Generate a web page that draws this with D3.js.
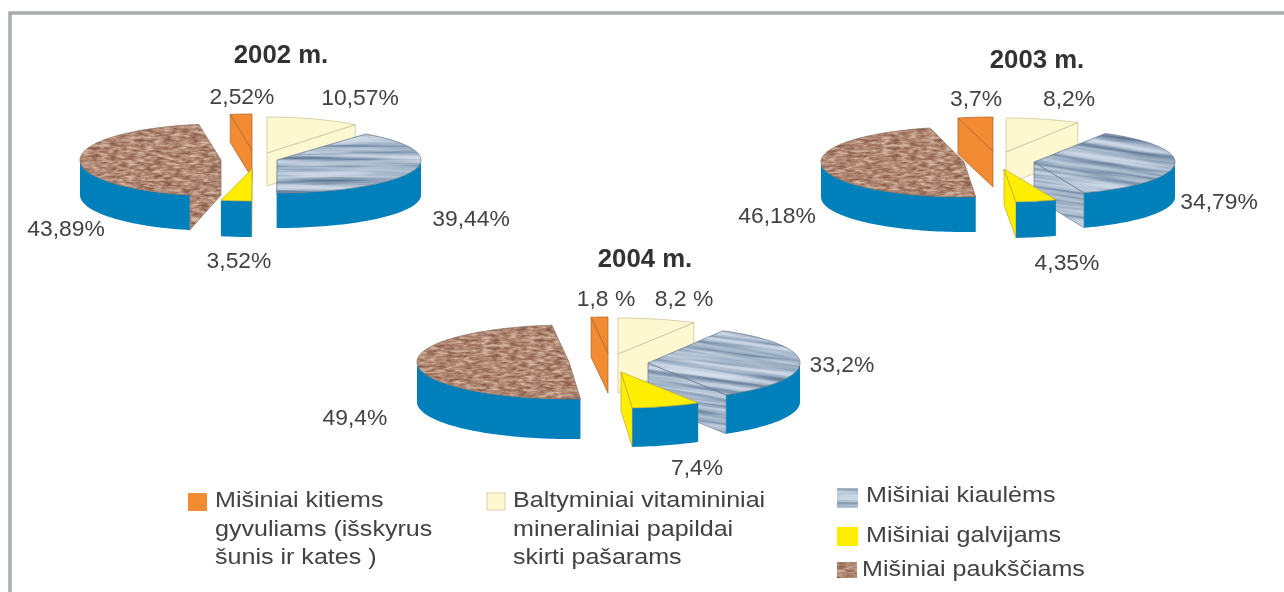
<!DOCTYPE html>
<html>
<head>
<meta charset="utf-8">
<script src="https://cdnjs.cloudflare.com/ajax/libs/d3/7.8.5/d3.min.js"></script>
<style>
  body { margin: 0; background: #fff; }
  svg { display: block; }
  text { font-family: "Liberation Sans", Arial, sans-serif; fill: #424242; }
</style>
</head>
<body>
<svg id="chart" width="1284" height="592"></svg>
<script>
// values, slices go clockwise from 12 o'clock
var categories = ["baltyminiai", "kiaules", "galvijai", "pauksciai", "kiti"];
var years = ["2002 m.", "2003 m.", "2004 m."];
var shares2002 = [10.57, 39.44, 3.52, 43.89, 2.52];
var shares2003 = [8.2, 34.79, 4.35, 46.18, 3.7];
var shares2004 = [8.2, 33.2, 7.4, 49.4, 1.8];
var labels2002 = ["10,57%", "39,44%", "3,52%", "43,89%", "2,52%"];
var labels2003 = ["8,2%", "34,79%", "4,35%", "46,18%", "3,7%"];
var labels2004 = ["8,2 %", "33,2%", "7,4%", "49,4%", "1,8 %"];
var legendLines = [
  ["Mišiniai kitiems", "gyvuliams (išskyrus", "šunis ir kates )"],
  ["Baltyminiai vitamininiai", "mineraliniai papildai", "skirti pašarams"],
  ["Mišiniai kiaulėms"],
  ["Mišiniai galvijams"],
  ["Mišiniai paukščiams"]
];
var legendKeys = ["kiti", "baltyminiai", "kiaules", "galvijai", "pauksciai"];

// layout: each exploded slice has its own apex, radii and depth
var pies = [
  { shares: shares2002, labels: labels2002, title: [281, 63], tilt: 0,
    slices: [
      { x: 267, y: 153, rx: 143, ry: 36, d: 33 },
      { x: 277, y: 160, rx: 144, ry: 33, d: 35 },
      { x: 252, y: 169, rx: 140, ry: 32, d: 36 },
      { x: 221, y: 160, rx: 141, ry: 36, d: 35 },
      { x: 252, y: 150, rx: 138, ry: 36, d: 28 }],
    labelPos: [[360, 105], [471, 226], [239, 268], [66, 236], [242, 104]] },
  { shares: shares2003, labels: labels2003, title: [1037, 68], tilt: 8,
    slices: [
      { x: 1006, y: 152, rx: 142, ry: 34, d: 33 },
      { x: 1034, y: 162, rx: 141, ry: 33, d: 35 },
      { x: 1004, y: 169, rx: 146, ry: 33, d: 36 },
      { x: 964, y: 162, rx: 143, ry: 35, d: 35 },
      { x: 993, y: 151, rx: 148, ry: 34, d: 36 }],
    labelPos: [[1069, 106], [1219, 209], [1067, 270], [777, 223], [976, 106]] },
  { shares: shares2004, labels: labels2004, title: [645, 267], tilt: 8,
    slices: [
      { x: 618, y: 354, rx: 154, ry: 36, d: 39 },
      { x: 648, y: 363, rx: 152, ry: 37, d: 39 },
      { x: 621, y: 372, rx: 150, ry: 36, d: 39 },
      { x: 569, y: 362, rx: 152, ry: 37, d: 40 },
      { x: 608, y: 353, rx: 150, ry: 36, d: 40 }],
    labelPos: [[684, 306], [842, 372], [697, 475], [355, 425], [606, 306]] }
];
var drawOrder = [4, 0, 3, 1, 2]; // back to front

var wallColor = "#0080bb";
var solidFill = { baltyminiai: "#fdf8cf", galvijai: "#ffee00", kiti: "#f28b32" };
var edgeColor = { baltyminiai: "#c4bd92", kiaules: "#66758a", galvijai: "#b8a930", pauksciai: "#8a6a5a", kiti: "#a5652f" };

var svg = d3.select("#chart");
var defs = svg.append("defs");

// noise textures for the two patterned categories
function addNoise(id, freq, seed, r, g, b) {
  var f = defs.append("filter").attr("id", id)
    .attr("x", 0).attr("y", 0).attr("width", 1).attr("height", 1)
    .attr("color-interpolation-filters", "sRGB");
  f.append("feTurbulence").attr("type", "fractalNoise")
    .attr("baseFrequency", freq).attr("numOctaves", 3).attr("seed", seed)
    .attr("stitchTiles", "stitch");
  f.append("feColorMatrix").attr("type", "matrix")
    .attr("values", "1 0 0 0 0  1 0 0 0 0  1 0 0 0 0  0 0 0 0 1");
  var t = f.append("feComponentTransfer");
  t.append("feFuncR").attr("type", "table").attr("tableValues", r);
  t.append("feFuncG").attr("type", "table").attr("tableValues", g);
  t.append("feFuncB").attr("type", "table").attr("tableValues", b);
}
addNoise("streaks", "0.008 0.2", 7,
  "0.38 0.38 0.5 0.66 0.78 0.84 0.84",
  "0.46 0.46 0.58 0.73 0.83 0.88 0.88",
  "0.58 0.58 0.68 0.8 0.89 0.93 0.93");
addNoise("mottle", "0.11 0.38", 3,
  "0.52 0.52 0.6 0.69 0.78 0.85 0.85",
  "0.34 0.34 0.43 0.53 0.65 0.74 0.74",
  "0.27 0.27 0.35 0.45 0.57 0.66 0.66");

function addPattern(id, filter, angle) {
  var p = defs.append("pattern").attr("id", id)
    .attr("patternUnits", "userSpaceOnUse")
    .attr("width", 400).attr("height", 200)
    .attr("patternTransform", "rotate(" + angle + ")");
  p.append("rect").attr("width", 400).attr("height", 200).attr("filter", "url(#" + filter + ")");
}
addPattern("pig0", "streaks", 0);
addPattern("pig8", "streaks", 8);
addPattern("bird", "mottle", 0);

function faceFill(key, tilt) {
  if (key === "kiaules") return "url(#pig" + tilt + ")";
  if (key === "pauksciai") return "url(#bird)";
  return solidFill[key];
}

// point on a slice's rim, angle 0 at the top going clockwise
function rim(s, a, drop) {
  return [s.x + s.rx * Math.sin(a), s.y - s.ry * Math.cos(a) + drop];
}
function arcPoints(s, a0, a1, drop) {
  var n = Math.max(2, Math.ceil((a1 - a0) / 0.03));
  return d3.range(n + 1).map(function(i) {
    return rim(s, a0 + (a1 - a0) * i / n, drop);
  });
}

var line = d3.line().curve(d3.curveLinear);

function cutFace(g, s, a, key, tilt) {
  var p = rim(s, a, 0);
  g.append("path")
    .attr("d", line([[s.x, s.y], p, [p[0], p[1] + s.d], [s.x, s.y + s.d]]) + "Z")
    .attr("fill", faceFill(key, tilt))
    .attr("stroke", edgeColor[key])
    .attr("stroke-width", 0.7);
}

var pie = d3.pie().sort(null);
var chartLayer = svg.append("g").attr("filter", "url(#soft)");

var soft = defs.append("filter").attr("id", "soft")
  .attr("x", 0).attr("y", 0).attr("width", 1).attr("height", 1);
soft.append("feGaussianBlur").attr("stdDeviation", 0.5);

pies.forEach(function(cfg, yi) {
  var arcs = pie(cfg.shares);

  drawOrder.forEach(function(i) {
    var a = arcs[i], s = cfg.slices[i], key = categories[i];
    var g = chartLayer.append("g").attr("class", "slice");

    // cut faces that turn towards the viewer
    if (Math.sin(a.startAngle) < -1e-6) cutFace(g, s, a.startAngle, key, cfg.tilt);
    if (Math.sin(a.endAngle) > 1e-6) cutFace(g, s, a.endAngle, key, cfg.tilt);

    // outer wall, only the front half of the rim shows
    var w0 = Math.max(a.startAngle, Math.PI / 2);
    var w1 = Math.min(a.endAngle, 3 * Math.PI / 2);
    if (w1 > w0) {
      var top = arcPoints(s, w0, w1, 0);
      var bottom = arcPoints(s, w0, w1, s.d).reverse();
      g.append("path")
        .attr("d", line(top.concat(bottom)) + "Z")
        .attr("fill", wallColor);
    }

    // top face
    var pts = [[s.x, s.y]].concat(arcPoints(s, a.startAngle, a.endAngle, 0));
    g.append("path")
      .attr("d", line(pts) + "Z")
      .attr("fill", faceFill(key, cfg.tilt))
      .attr("stroke", edgeColor[key])
      .attr("stroke-width", 0.7);
  });

  // title
  chartLayer.append("text")
    .attr("transform", "translate(" + cfg.title[0] + "," + cfg.title[1] + ") scale(1.03,1)")
    .attr("text-anchor", "middle")
    .attr("font-size", 25)
    .attr("font-weight", "bold")
    .style("fill", "#333")
    .text(years[yi]);

  // percent labels
  cfg.labels.forEach(function(txt, i) {
    chartLayer.append("text")
      .attr("transform", "translate(" + cfg.labelPos[i][0] + "," + cfg.labelPos[i][1] + ") scale(1.04,1)")
      .attr("text-anchor", "middle")
      .attr("font-size", 22)
      .text(txt);
  });
});

// legend
var swatches = [[188, 493, 19, 18], [487, 493, 18, 17], [837, 488, 21, 20], [837, 527, 21, 19], [837, 562, 20, 16]];
var legendText = [
  [215, [507, 536, 564]],
  [513, [507, 536, 564]],
  [866, [502]],
  [866, [542]],
  [862, [576]]
];
legendKeys.forEach(function(key, i) {
  chartLayer.append("rect")
    .attr("x", swatches[i][0]).attr("y", swatches[i][1])
    .attr("width", swatches[i][2]).attr("height", swatches[i][3])
    .attr("fill", faceFill(key, 0))
    .attr("stroke", key === "baltyminiai" ? edgeColor[key] : "none")
    .attr("stroke-width", 0.7);
  legendLines[i].forEach(function(txt, j) {
    chartLayer.append("text")
      .attr("transform", "translate(" + legendText[i][0] + "," + legendText[i][1][j] + ") scale(1.14,1)")
      .attr("font-size", 22)
      .text(txt);
  });
});

// grey frame, open on the right and at the bottom
svg.append("path")
  .attr("d", line([[10, 592], [10, 13], [1284, 13]]))
  .attr("fill", "none")
  .attr("stroke", "#a9abae")
  .attr("stroke-width", 3.5);
</script>
</body>
</html>
